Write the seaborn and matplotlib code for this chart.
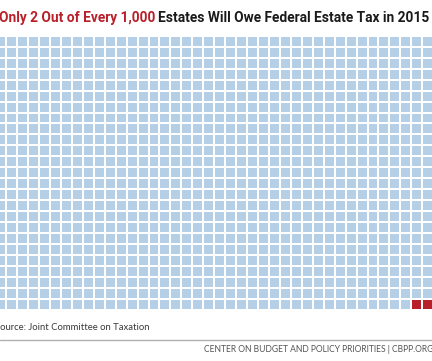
import numpy as np
import matplotlib
matplotlib.use("Agg")
import matplotlib.pyplot as plt
import seaborn as sns
from matplotlib.colors import ListedColormap

# data
categories = ["Will not owe estate tax", "Will owe estate tax"]
estate_counts = [998, 2]
n_cols = 40

title_red = "Only 2 Out of Every 1,000"
title_black = "Estates Will Owe Federal Estate Tax in 2015"
source_text = "Source: Joint Committee on Taxation"
footer_text = "CENTER ON BUDGET AND POLICY PRIORITIES | CBPP.ORG"

BLUE = "#b4cfe6"
RED = "#b8202a"
TITLE_FONT = ["Roboto", "Liberation Sans", "DejaVu Sans"]
BODY_FONT = ["Lato", "Open Sans", "DejaVu Sans"]

sns.set_style("white")

# waffle grid, filled row by row; the taxed estates are the last cells
cells = np.concatenate([np.full(c, i) for i, c in enumerate(estate_counts)])
grid = cells.reshape(-1, n_cols)

W, H = 432, 361
fig = plt.figure(figsize=(W / 100, H / 100), dpi=100)
pitch = 10.95
x0, y0 = -4.8, 35.85
ax = fig.add_axes([x0 / W, 1 - (y0 + grid.shape[0] * pitch) / H,
                   grid.shape[1] * pitch / W, grid.shape[0] * pitch / H])
sns.heatmap(grid, ax=ax, cmap=ListedColormap([BLUE, RED]), cbar=False,
            linewidths=1.25, linecolor="white", square=False,
            xticklabels=False, yticklabels=False)
ax.set_xlabel("")
ax.set_ylabel("")


def draw_title(size):
    t1 = fig.text(-1 / W, 1 - 22 / H, title_red, color=RED, fontsize=size,
                  fontweight="bold", family=TITLE_FONT)
    fig.canvas.draw()
    bb = t1.get_window_extent()
    t2 = fig.text((bb.x1 + 0.3 * size) / W, 1 - 22 / H, title_black, color="#1a1a1a",
                  fontsize=size, fontweight="bold", family=TITLE_FONT)
    fig.canvas.draw()
    return t1, t2


# shrink title until it fits the same width as the reference
size = 12.0
t1, t2 = draw_title(size)
right = t2.get_window_extent().x1
size = size * 428 / right
t1.remove()
t2.remove()
draw_title(size)

src = fig.text(-5 / W, 1 - 330 / H, source_text, color="#3a3a3a", fontsize=7.6,
               family=BODY_FONT)
fig.canvas.draw()
w = src.get_window_extent().width
src.set_fontsize(7.6 * 154 / w)

fig.add_artist(plt.Line2D([0, 1], [1 - 340 / H, 1 - 340 / H], color="#b0b0b0",
                          lw=1.0, transform=fig.transFigure))
fig.text(433 / W, 1 - 352 / H, footer_text, color="#555555", fontsize=6.15,
         ha="right", family=BODY_FONT)

fig.savefig("out.png", dpi=100)
